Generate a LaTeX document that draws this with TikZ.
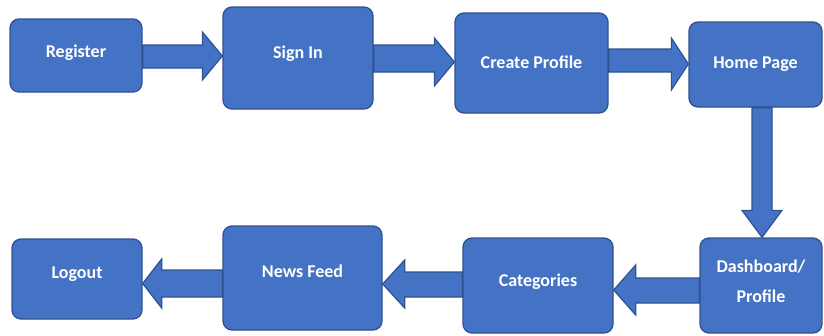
\documentclass[tikz,border=0pt]{standalone}
\usepackage{fontspec}
\setmainfont{Carlito}
\usetikzlibrary{calc}
\definecolor{boxfill}{HTML}{4472C4}
\definecolor{boxline}{HTML}{2F528F}
\tikzset{
  box/.style={draw=boxline, fill=boxfill, line width=1.3pt, rounded corners=9pt, inner sep=0pt},
  txt/.style={text=white, font=\bfseries\fontsize{18}{30}\selectfont, align=center},
  blk/.style={draw=boxline, fill=boxfill, line width=1.2pt, line join=miter}
}
% horizontal block arrow: from, to, shaft y1, shaft y2, head y1, head y2, signed head length
\newcommand\harrow[7]{%
  \draw[blk] let \p1=(#1), \p2=(#2), \n1={\x2-(#7pt)} in
    (\x1,#3) -- (\n1,#3) -- (\n1,#5) -- (\x2,{(#5+#6)/2}) -- (\n1,#6) -- (\n1,#4) -- (\x1,#4) -- cycle;}
% vertical block arrow: from, to, shaft x1, shaft x2, head x1, head x2, head length
\newcommand\varrow[7]{%
  \draw[blk] let \p1=(#1), \p2=(#2), \n1={\y2+(#7pt)} in
    (#3,\y1) -- (#3,\n1) -- (#5,\n1) -- ({(#5+#6)/2},\y2) -- (#6,\n1) -- (#4,\n1) -- (#4,\y1) -- cycle;}
\begin{document}
\begin{tikzpicture}[x=1pt,y=-1pt]
\useasboundingbox (0,0) rectangle (824,335);
\node[box, minimum width=132pt, minimum height=73pt, label={[txt,yshift=3pt]center:Register}] (reg) at (76,55.5) {};
\node[box, minimum width=150pt, minimum height=102pt, label={[txt,yshift=4pt]center:Sign In}] (sign) at (298,58) {};
\node[box, minimum width=153pt, minimum height=100pt, label={[txt,yshift=1pt]center:Create Profile}] (create) at (531.5,63) {};
\node[box, minimum width=133pt, minimum height=85pt, label={[txt,yshift=0pt]center:Home Page}] (home) at (755.5,64.5) {};
\node[box, minimum width=130pt, minimum height=80pt, label={[txt,yshift=5pt]center:Logout}] (logout) at (77,279) {};
\node[box, minimum width=159pt, minimum height=104pt, label={[txt,yshift=7pt]center:News Feed}] (news) at (302.5,278) {};
\node[box, minimum width=150pt, minimum height=95pt, label={[txt,yshift=4pt]center:Categories}] (cat) at (538,285.5) {};
\node[box, minimum width=122pt, minimum height=95pt, label={[txt,yshift=4pt]center:Dashboard/\\Profile}] (dash) at (761,285.5) {};

\harrow{reg.east}{sign.west}{45}{68}{32}{80}{20}
\harrow{sign.east}{create.west}{45}{72}{38}{86}{20}
\harrow{create.east}{home.west}{49}{72}{38}{90}{17}
\varrow{home.south}{dash.north}{752}{772}{742}{782}{27}
\harrow{dash.west}{cat.east}{278}{303}{265}{315}{-22}
\harrow{cat.west}{news.east}{272}{297}{260}{308}{-22}
\harrow{news.west}{logout.east}{270}{297}{259}{308}{-19}
\end{tikzpicture}
\end{document}
